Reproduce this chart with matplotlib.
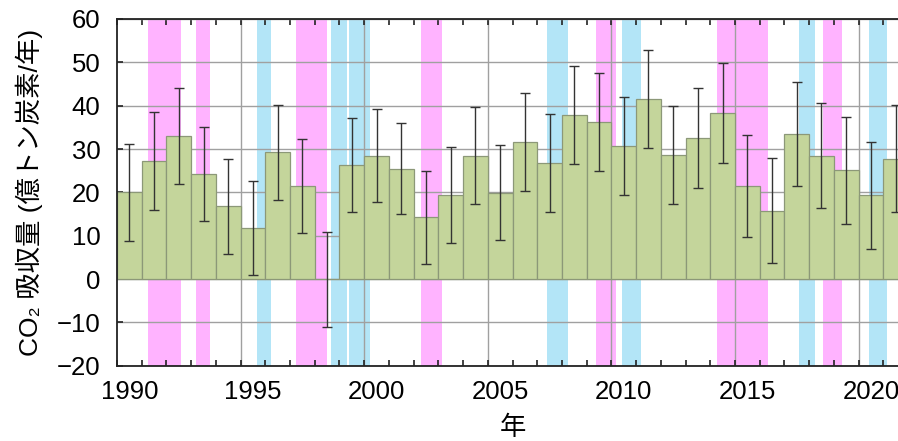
import matplotlib
matplotlib.use("Agg")
import matplotlib.pyplot as plt
import numpy as np

years = list(range(1990, 2022))
uptake = [20.0, 27.2, 33.0, 24.2, 16.8, 11.8, 29.2, 21.5, -0.1, 26.3,
          28.5, 25.5, 14.2, 19.4, 28.5, 19.9, 31.7, 26.8, 37.9, 36.2,
          30.8, 41.6, 28.6, 32.5, 38.3, 21.5, 15.8, 33.5, 28.5, 25.1,
          19.3, 27.8]
uncert = [11.2, 11.3, 11.1, 10.9, 11.0, 10.9, 10.9, 10.9, 11.0, 10.9,
          10.8, 10.6, 10.8, 11.1, 11.1, 11.0, 11.3, 11.3, 11.3, 11.3,
          11.3, 11.3, 11.4, 11.6, 11.6, 11.8, 12.2, 12.0, 12.1, 12.3,
          12.3, 12.3]

# El Nino (pink) and La Nina (blue) periods, in decimal years
elnino_start = [1991.25, 1993.18, 1997.25, 2002.29, 2009.37, 2014.26, 2018.58]
elnino_end   = [1992.58, 1993.75, 1998.48, 2003.13, 2010.18, 2016.35, 2019.33]
lanina_start = [1995.66, 1998.65, 1999.38, 2007.40, 2010.45, 2017.58, 2020.41]
lanina_end   = [1996.25, 1999.31, 2000.22, 2008.26, 2011.19, 2018.25, 2021.14]

label_years = [1990, 1995, 2000, 2005, 2010, 2015, 2020]

plt.rcParams['font.family'] = ['Liberation Sans', 'Noto Sans CJK JP', 'DejaVu Sans']

fig = plt.figure(figsize=(8.98, 4.41), dpi=100)
ax = fig.add_axes([117/898, 1 - 365.7/441, (908-117)/898, (365.7-19)/441])

pink = '#ffb3ff'
blue = '#b3e5f7'
for s, e in zip(elnino_start, elnino_end):
    ax.axvspan(s, e, color=pink, lw=0, zorder=0)
for s, e in zip(lanina_start, lanina_end):
    ax.axvspan(s, e, color=blue, lw=0, zorder=0)

# grid
for gy in label_years[1:]:
    ax.axvline(gy, color='#a0a0a0', lw=1.0, zorder=0.5)
ax.yaxis.grid(True, color='#a0a0a0', lw=1.0, zorder=0.5)
ax.set_axisbelow(True)

x = np.array(years)
ax.bar(x, uptake, width=1.0, align='edge', color='#c4d59b',
       edgecolor='#8c9878', linewidth=0.9, zorder=2)
ax.errorbar(x + 0.5, uptake, yerr=uncert, fmt='none', ecolor='#333333',
            elinewidth=1.0, capsize=3.5, capthick=1.0, zorder=3)

ax.set_xlim(1990, 2022)
ax.set_ylim(-20, 60)
ax.set_yticks(np.arange(-20, 61, 10))

ax.set_xticks([y + 0.5 for y in label_years])
ax.set_xticklabels([str(y) for y in label_years])
ax.set_xticks(years + [2022], minor=True)
ax.tick_params(axis='x', which='major', length=0, pad=10, labelsize=18.5)
ax.tick_params(axis='x', which='minor', direction='in', length=4, width=1.2,
               top=True, bottom=True, color='#222222')
ax.tick_params(axis='y', which='major', direction='in', length=4, width=1.2,
               labelsize=18.5, pad=12, color='#222222')

for sp in ['left', 'bottom', 'top']:
    ax.spines[sp].set_linewidth(1.3)
    ax.spines[sp].set_color('#222222')
    ax.spines[sp].set_zorder(5)
ax.spines['right'].set_visible(False)

ax.set_ylabel('CO\u2082 吸収量 (億トン炭素/年)', fontsize=19, labelpad=10)
ax.set_xlabel('年', fontsize=19, labelpad=9)

fig.savefig('out.png', dpi=100)
